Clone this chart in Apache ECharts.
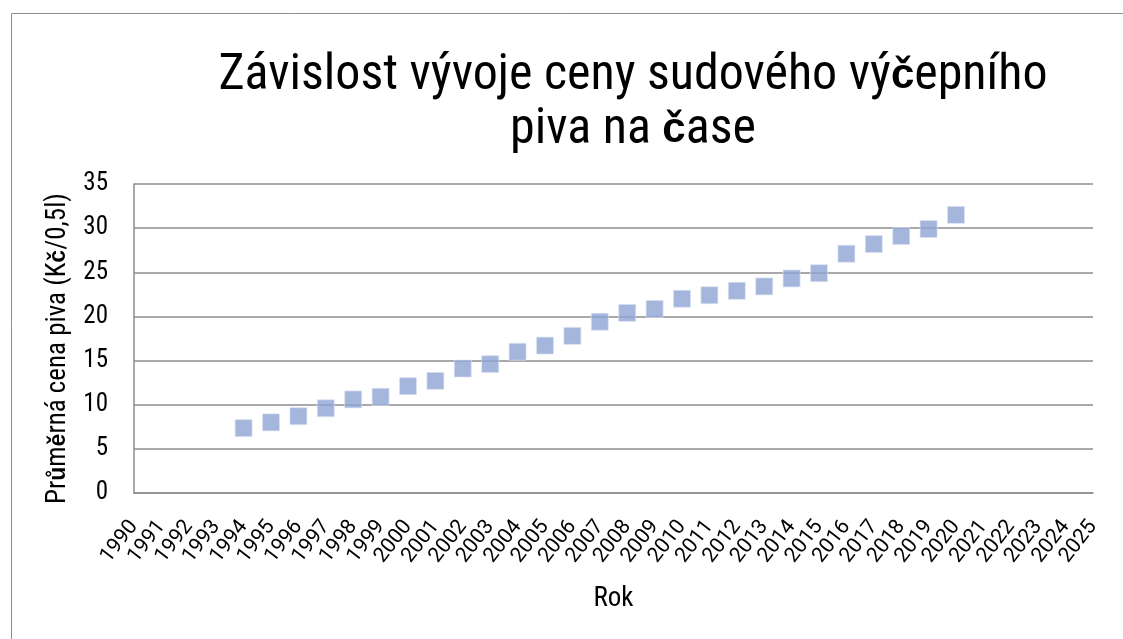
<!DOCTYPE html>
<html>
<head>
<meta charset="utf-8">
<script src="https://cdn.jsdelivr.net/npm/echarts@6/dist/echarts.min.js"></script>
<style>
  html, body { margin: 0; padding: 0; background: #fff; }
  #chart { width: 1123px; height: 639px; }
</style>
</head>
<body>
<div id="chart"></div>
<script>
  // roky a prumerne ceny (Kc/0,5l)
  const years = [1994, 1995, 1996, 1997, 1998, 1999, 2000, 2001, 2002, 2003, 2004, 2005, 2006, 2007,
    2008, 2009, 2010, 2011, 2012, 2013, 2014, 2015, 2016, 2017, 2018, 2019, 2020]
  const prices = [7.35, 8.0, 8.7, 9.6, 10.6, 10.9, 12.1, 12.7, 14.1, 14.6, 16.0, 16.7, 17.8, 19.4,
    20.4, 20.85, 22.0, 22.4, 22.9, 23.4, 24.3, 24.9, 27.1, 28.2, 29.1, 29.9, 31.5]
  const xRange = [1990, 2025]
  const yTicks = [0, 5, 10, 15, 20, 25, 30, 35]

  const font = '"Roboto Condensed", "Liberation Sans", sans-serif'
  const boldFont = '"Liberation Sans", Arial, sans-serif'
  const points = years.map((y, i) => [y, prices[i]])

  const chart = echarts.init(document.getElementById('chart'))
  chart.setOption({
    animation: false,
    backgroundColor: '#fff',
    title: {
      text: '{n|Závislost vývoje ceny sudového vý}{b|č}{n|epního}\n{n|piva na }{b|č}{n|ase}',
      left: 628,
      top: 44,
      textAlign: 'center',
      textStyle: {
        rich: {
          n: { fontFamily: font, fontWeight: 'normal', fontSize: 50, color: '#000', lineHeight: 54 },
          b: { fontFamily: boldFont, fontWeight: 'bold', fontSize: 42, color: '#000', lineHeight: 54 }
        }
      }
    },
    graphic: [{
      type: 'rect',
      silent: true,
      shape: { x: 11.5, y: 13.5, width: 1200, height: 700 },
      style: { fill: 'none', stroke: '#8c8c8c', lineWidth: 1 }
    }],
    grid: { left: 134, right: 30, top: 184, bottom: 146 },
    xAxis: {
      type: 'value',
      min: xRange[0],
      max: xRange[1],
      interval: 1,
      name: 'Rok',
      nameLocation: 'middle',
      nameGap: 93,
      nameTextStyle: { fontFamily: font, fontSize: 27, color: '#000' },
      axisLine: { show: true, lineStyle: { color: '#8c8c8c', width: 1.5 } },
      axisTick: { show: false },
      splitLine: { show: false },
      axisLabel: {
        rotate: 52,
        margin: 30,
        fontFamily: 'Roboto, "Liberation Sans", sans-serif',
        fontSize: 21,
        color: '#000',
        showMinLabel: true,
        showMaxLabel: true,
        hideOverlap: false,
        formatter: v => String(v)
      }
    },
    yAxis: {
      type: 'value',
      min: yTicks[0],
      max: yTicks[yTicks.length - 1],
      interval: 5,
      name: '{n|Pr}{b|ů}{n|m}{b|ě}{n|rná cena piva (K}{b|č}{n|/0,5l)}',
      nameLocation: 'middle',
      nameGap: 62,
      nameTextStyle: {
        padding: [0, 20, 0, 0],
        rich: {
          n: { fontFamily: font, fontSize: 27, color: '#000' },
          b: { fontFamily: boldFont, fontWeight: 'bold', fontSize: 23, color: '#000' }
        }
      },
      axisLine: { show: true, lineStyle: { color: '#8c8c8c', width: 1.5 } },
      axisTick: { show: false },
      splitLine: { show: true, lineStyle: { color: '#8c8c8c', width: 1.5 } },
      axisLabel: {
        margin: 26,
        fontFamily: font,
        fontSize: 25,
        color: '#000',
        formatter: v => String(v)
      }
    },
    series: [{
      type: 'scatter',
      data: points,
      symbol: 'rect',
      symbolSize: 17,
      itemStyle: { color: '#8fa4d4', borderColor: '#dde4f3', borderWidth: 0.8 }
    }]
  })
</script>
</body>
</html>
